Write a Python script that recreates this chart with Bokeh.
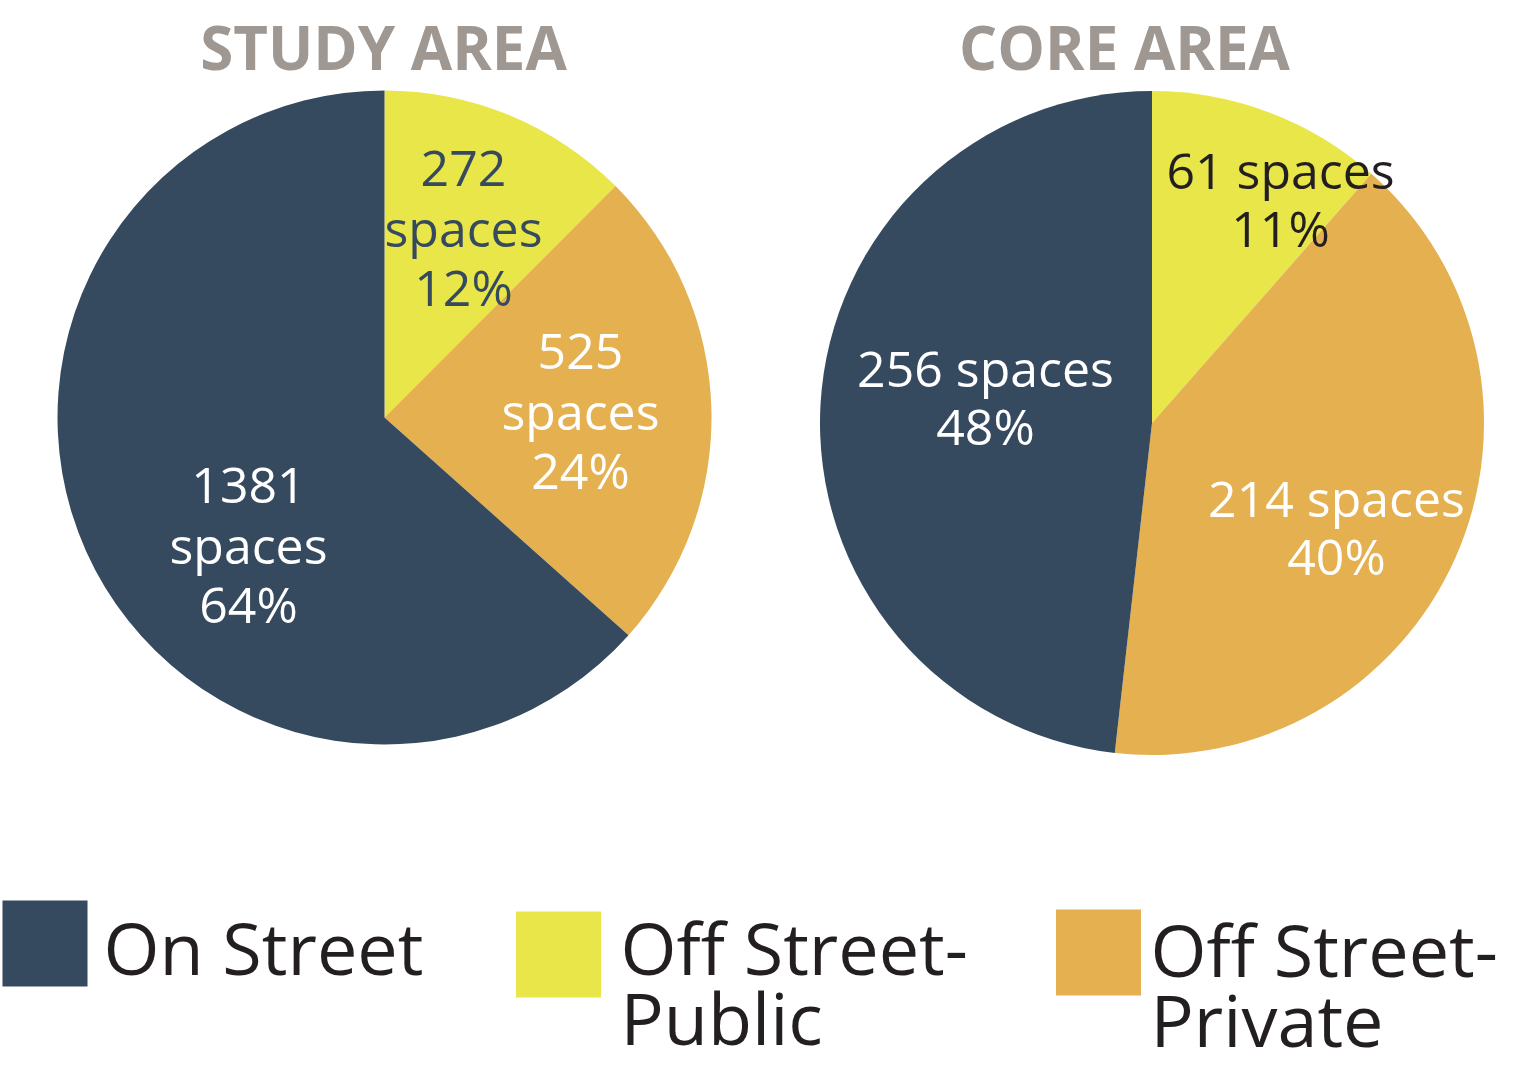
import math
from bokeh.plotting import figure
from bokeh.models import Range1d, ColumnDataSource
from bokeh.core.properties import value
from bokeh.embed import file_html
from bokeh.resources import INLINE

# ---------------- data ----------------
categories = ["On Street", "Off Street-Public", "Off Street-Private"]
study_spaces = [1381, 272, 525]
study_pct = [64, 12, 24]
core_spaces = [256, 61, 214]
core_pct = [48, 11, 40]
titles = ["STUDY AREA", "CORE AREA"]
legend_lines = [["On Street"], ["Off Street-", "Public"], ["Off Street-", "Private"]]

# ---------------- styles ----------------
colors = ["#35495F", "#E9E64A", "#E4B050"]
TITLE_C = "#9F9892"
DARK = "#231F20"
W, H = 1507, 1069
SHIFT = 0.4  # baseline correction, fraction of font size

def Y(y):  # screen y (from top) -> data y
    return H - y

p = figure(width=W, height=H, output_backend="svg", toolbar_location=None,
           x_range=Range1d(0, W), y_range=Range1d(0, H), min_border=0)
p.axis.visible = False
p.grid.visible = False
p.outline_line_color = None
p.background_fill_color = "white"

order = [1, 2, 0]  # clockwise from 12 o'clock: public, private, on street

def pie(cx, cy, r, vals):
    total = float(sum(vals))
    starts, ends, cols = [], [], []
    cum = 0.0
    for i in order:
        a0 = math.pi / 2 - 2 * math.pi * (cum + vals[i]) / total
        a1 = math.pi / 2 - 2 * math.pi * cum / total
        cum += vals[i]
        starts.append(a0)
        ends.append(a1)
        cols.append(colors[i])
    src = ColumnDataSource(dict(x=[cx] * 3, y=[Y(cy)] * 3, s=starts, e=ends, c=cols))
    p.wedge(x="x", y="y", radius=r, start_angle="s", end_angle="e", direction="anticlock",
            fill_color="c", line_color=None, source=src)

pie(384, 417, 327, study_spaces)
pie(1151.5, 422.5, 332, core_spaces)

def txt(lines, x, y0, color, size, step, align="center", bold=False):
    ys = [Y(y0 + k * step - SHIFT * size) for k in range(len(lines))]
    p.text(x=[x] * len(lines), y=ys, text=lines, text_align=align,
           text_baseline="alphabetic", text_color=color, text_font=value("Open Sans"),
           text_font_style="bold" if bold else "normal", text_font_size=f"{size}px")

# study area labels (3 lines each)
st_pos = {1: (463, 188, colors[0]), 2: (580, 371, "white"), 0: (248, 505, "white")}
for i, (x, y0, c) in st_pos.items():
    txt([str(study_spaces[i]), "spaces", f"{study_pct[i]}%"], x, y0, c, 50, 59)

# core area labels (2 lines each)
co_pos = {1: (1280, 189, DARK), 2: (1336, 517, "white"), 0: (985, 387, "white")}
for i, (x, y0, c) in co_pos.items():
    txt([f"{core_spaces[i]} spaces", f"{core_pct[i]}%"], x, y0, c, 50, 58)

# titles
txt([titles[0]], 383, 70, TITLE_C, 60, 0, bold=True)
txt([titles[1]], 1124, 70, TITLE_C, 60, 0, bold=True)

# legend
sq_pos = [(44.5, 943), (558, 954), (1098, 952)]
txt_pos = [(103, 975), (620, 975), (1150, 977)]
p.rect(x=[sx for sx, _ in sq_pos], y=[Y(sy) for _, sy in sq_pos], width=85, height=86,
       fill_color=colors, line_color=None)
for k, lines in enumerate(legend_lines):
    tx, ty = txt_pos[k]
    txt(lines, tx, ty, DARK, 72, 70, align="left")

open("out.html", "w").write(file_html(p, INLINE))
